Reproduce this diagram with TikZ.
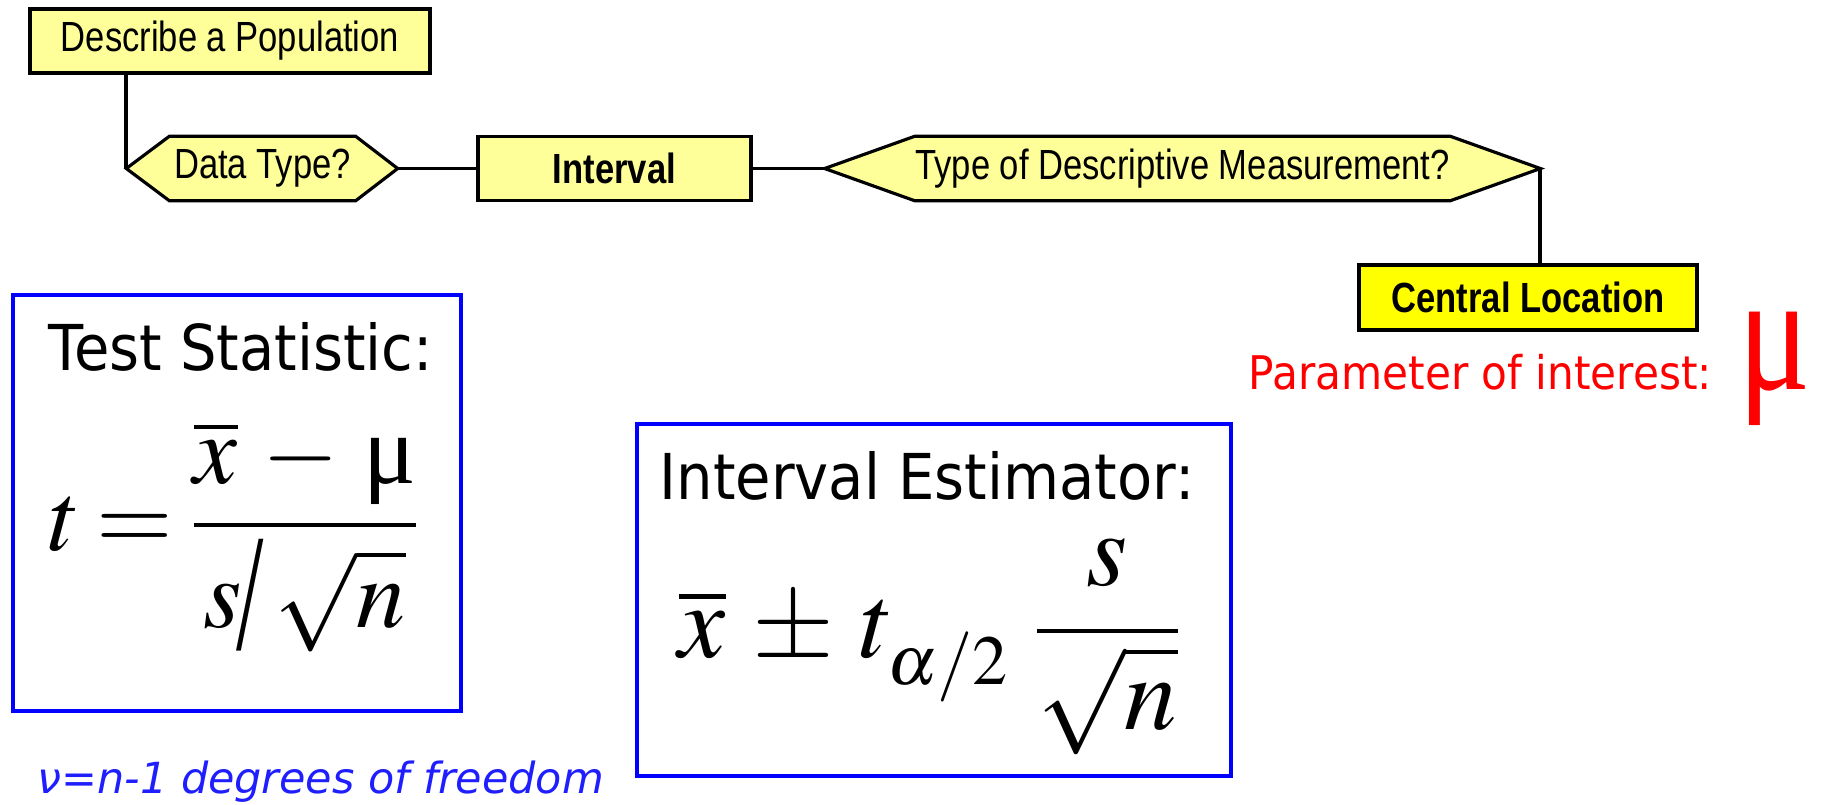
\documentclass[tikz,border=0pt]{standalone}
\usepackage{amsmath}
\usepackage{graphicx}
\usepackage{mathptmx}
\usepackage[no-math]{fontspec}
\setmainfont{Liberation Serif}
\usepackage{tikz}
\usetikzlibrary{backgrounds}

\newfontfamily\flowfont[FakeStretch=0.82]{Liberation Sans}
\newfontfamily\titlefont[FakeStretch=0.91]{DejaVu Sans}
\newfontfamily\notefont{DejaVu Sans}
\newfontfamily\greekup{Liberation Serif}

\DeclareMathSizes{28}{28}{20}{14}
\DeclareMathSizes{30}{30}{20}{14}

\definecolor{paleyellow}{RGB}{255,255,153}
\definecolor{keyyellow}{RGB}{255,255,0}
\definecolor{boxblue}{RGB}{0,0,255}
\definecolor{notered}{RGB}{255,0,0}
\definecolor{noteblue}{RGB}{30,30,255}

\begin{document}
\begin{tikzpicture}[
  flowbox/.style={draw, line width=0.9pt, fill=paleyellow, inner sep=0pt,
    font=\flowfont\fontsize{12}{14}\selectfont},
  boldbox/.style={flowbox, font=\flowfont\bfseries\fontsize{12}{14}\selectfont},
  keybox/.style={boldbox, fill=keyyellow},
  hexlabel/.style={inner sep=0pt, minimum height=0.63cm,
    font=\flowfont\fontsize{12}{14}\selectfont},
  hexline/.style={draw, line width=0.9pt, fill=paleyellow},
  link/.style={line width=1.1pt},
  formbox/.style={draw=boxblue, line width=1.2pt, inner sep=0pt},
  boxtitle/.style={anchor=base west, inner sep=0pt,
    font=\titlefont\fontsize{18}{22}\selectfont},
  formula/.style={anchor=base west, inner sep=0pt}
]
  \useasboundingbox (0,0) rectangle (18.22,-8.04);

  % flow chart
  \node[flowbox, minimum width=4.00cm, minimum height=0.64cm] (pop) at (2.30,-0.41) {Describe a Population};
  \node[hexlabel, minimum width=1.85cm] (dtype) at (2.625,-1.685) {Data Type?};
  \node[boldbox, minimum width=2.73cm, minimum height=0.64cm] (interval) at (6.145,-1.685) {Interval};
  \node[hexlabel, minimum width=5.21cm] (measure) at (11.825,-1.685) {Type of Descriptive Measurement?};
  \node[keybox, minimum width=3.38cm, minimum height=0.65cm] (central) at (15.28,-2.975) {Central Location};

  % punte degli esagoni
  \coordinate (dtype-w) at ([xshift=-0.43cm]dtype.west);
  \coordinate (dtype-e) at ([xshift=0.42cm]dtype.east);
  \coordinate (measure-w) at ([xshift=-0.90cm]measure.west);
  \coordinate (measure-e) at ([xshift=0.90cm]measure.east);
  \begin{scope}[on background layer]
    \path[hexline] (dtype-w) -- (dtype.north west) -- (dtype.north east) -- (dtype-e)
      -- (dtype.south east) -- (dtype.south west) -- cycle;
    \path[hexline] (measure-w) -- (measure.north west) -- (measure.north east) -- (measure-e)
      -- (measure.south east) -- (measure.south west) -- cycle;
  \end{scope}

  \draw[link] (dtype-w) -- (dtype-w |- pop.south);
  \draw[link] (dtype-e) -- (interval.west);
  \draw[link] (interval.east) -- (measure-w);
  \draw[link] (measure-e) -- (measure-e |- central.north);

  % parametro
  \node[anchor=base west, inner sep=0pt, text=notered, font=\titlefont\fontsize{13.2}{16}\selectfont] (param) at (12.48,-3.89) {Parameter of interest:};
  \node[anchor=base west, inner sep=0pt, text=notered, font=\greekup\fontsize{48}{54}\selectfont] (mu) at (17.38,-3.89) {\scalebox{0.8}[1]{μ}};

  % statistica test
  \node[formbox, minimum width=4.48cm, minimum height=4.16cm] (statbox) at (2.37,-5.03) {};
  \node[boxtitle] (stattitle) at (0.48,-3.70) {Test Statistic:};
  \node[formula, font=\fontsize{28}{34}\selectfont] (statform) at (0.48,-5.50)
    {$\displaystyle t\mkern-1mu=\mkern-1mu\frac{\overline{x}\,-\,\text{\greekup μ}}{s\mkern-1mu\raisebox{-0.22em}{\scalebox{1}[1.7]{/}}\mkern2mu\sqrt{n}}$};
  \node[anchor=base west, inner sep=0pt, text=noteblue, font=\notefont\itshape\fontsize{12.2}{15}\selectfont] (dof) at (0.37,-7.93) {ν=n-1 degrees of freedom};

  % stimatore intervallo
  \node[formbox, minimum width=5.94cm, minimum height=3.52cm] (estbox) at (9.34,-6.00) {};
  \node[boxtitle] (esttitle) at (6.59,-4.99) {Interval Estimator:};
  \node[formula, font=\fontsize{30}{36}\selectfont] (estform) at (6.78,-6.57)
    {$\displaystyle \overline{x}\,\pm\,t_{\raisebox{-3.4pt}{$\scriptstyle\alpha/2$}}\;\frac{s}{\sqrt{n}}$};
\end{tikzpicture}
\end{document}
